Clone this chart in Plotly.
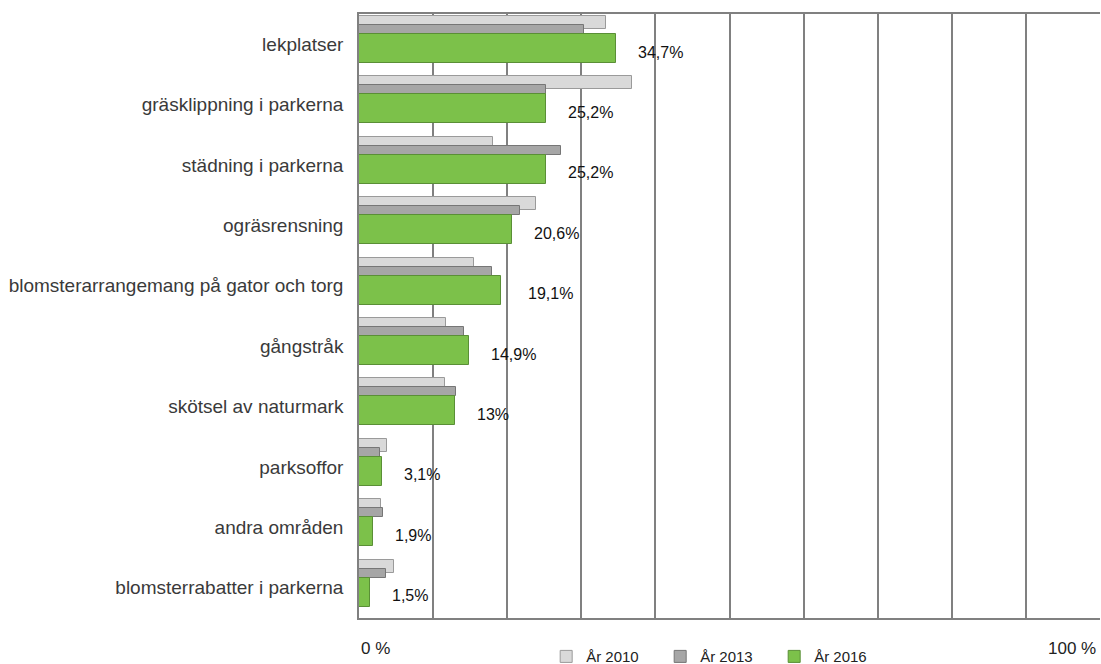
import plotly.graph_objects as go

categories = ["lekplatser", "gräsklippning i parkerna", "städning i parkerna", "ogräsrensning",
              "blomsterarrangemang på gator och torg", "gångstråk", "skötsel av naturmark",
              "parksoffor", "andra områden", "blomsterrabatter i parkerna"]
v2010 = [33.4, 36.9, 18.1, 23.9, 15.5, 11.8, 11.6, 3.8, 3.0, 4.7]
v2013 = [30.4, 25.3, 27.3, 21.7, 18.0, 14.2, 13.1, 2.9, 3.2, 3.7]
v2016 = [34.7, 25.2, 25.2, 20.6, 19.1, 14.9, 13.0, 3.1, 1.9, 1.5]
labels2016 = ["34,7%", "25,2%", "25,2%", "20,6%", "19,1%", "14,9%", "13%", "3,1%", "1,9%", "1,5%"]
series_names = ["År 2010", "År 2013", "År 2016"]

BAND = 60.4
starts = [BAND * i for i in range(len(categories))]
FONT = "Liberation Sans, Arial, Helvetica, sans-serif"

fig = go.Figure()
specs = [
    (v2010, 8.5, 13, "#d9d9d9", "#9a9a9a"),
    (v2013, 15.5, 9, "#a6a6a6", "#767676"),
    (v2016, 34.5, 29, "#7cc14a", "#5a8f36"),
]
for name, (vals, off, w, fill, edge) in zip(series_names, specs):
    fig.add_trace(go.Bar(
        x=vals, y=[s + off for s in starts], width=w, orientation="h", name=name,
        marker=dict(color=fill, line=dict(color=edge, width=1)),
        hoverinfo="x+name",
    ))

for i, (v, t) in enumerate(zip(v2016, labels2016)):
    fig.add_annotation(
        x=v, y=starts[i] + 38, xref="x", yref="y", text=t, showarrow=False,
        xanchor="left", yanchor="middle", xshift=21,
        font=dict(family=FONT, size=16, color="#111111"),
        bgcolor="white" if t == "19,1%" else "rgba(0,0,0,0)",
        borderpad=5 if t == "19,1%" else 0,
    )

fig.add_annotation(x=0, y=-0.0513, xref="paper", yref="paper", text="0 %", showarrow=False,
                   xanchor="left", yanchor="middle",
                   font=dict(family=FONT, size=17, color="#222222"))
fig.add_annotation(x=0.997, y=-0.0513, xref="paper", yref="paper", text="100 %", showarrow=False,
                   xanchor="right", yanchor="middle",
                   font=dict(family=FONT, size=17, color="#222222"))

fig.update_layout(
    width=1101, height=664,
    margin=dict(l=359, r=1, t=14, b=46, autoexpand=False),
    paper_bgcolor="white", plot_bgcolor="white",
    barmode="overlay",
    bargap=0,
    font=dict(family=FONT, size=15, color="#333333"),
    legend=dict(orientation="h", x=0.2526, y=-0.064, xanchor="left", yanchor="middle",
                entrywidth=69, entrywidthmode="pixels", traceorder="normal",
                font=dict(size=15, color="#222222"), bgcolor="rgba(0,0,0,0)"),
    xaxis=dict(range=[0, 100], dtick=10, showgrid=True, gridcolor="#808080", gridwidth=1.5,
               showticklabels=False, zeroline=False, showline=True, linecolor="#808080",
               linewidth=1.5, mirror=True, ticks=""),
    yaxis=dict(range=[BAND * len(categories), 0], tickvals=[s + BAND / 2 for s in starts],
               ticktext=categories, showgrid=False, zeroline=False, showline=True,
               linecolor="#808080", linewidth=1.5, ticks="", ticklabelstandoff=10,
               tickfont=dict(size=19, color="#3a3a3a")),
)

fig.write_html("out.html", config={"displayModeBar": False},
               post_script="document.body.style.margin='0';document.body.style.overflow='hidden';")
